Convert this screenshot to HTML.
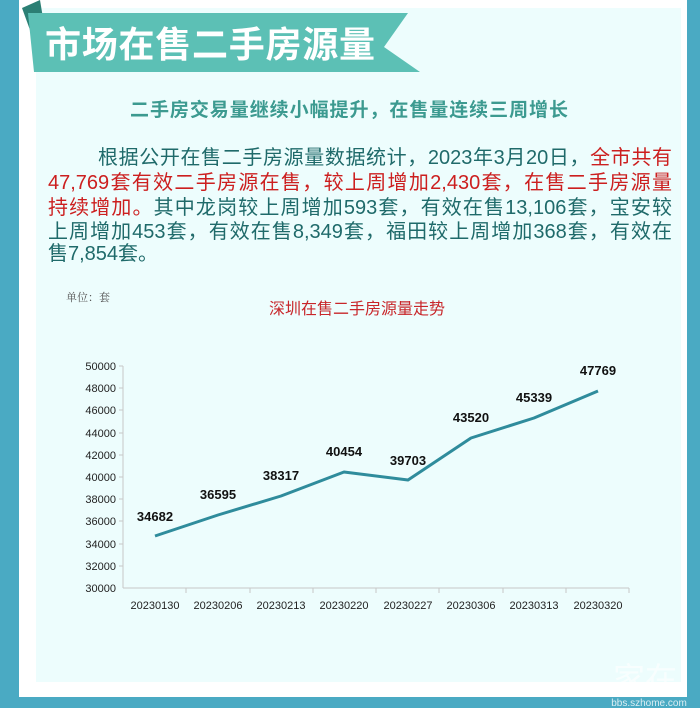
<!DOCTYPE html>
<html><head><meta charset="utf-8"><style>
body{margin:0;width:700px;height:708px;background:#4aaac3;position:relative;overflow:hidden;font-family:"Liberation Sans","Noto Sans CJK SC",sans-serif}
#white{position:absolute;left:19px;top:0;width:668px;height:697px;background:#fff}
#panel{position:absolute;left:36px;top:8px;width:645px;height:674px;background:#edfdfd}
.p{position:absolute;left:48px;width:624px;font-size:20px;color:#1f6a6a;text-align:justify;text-align-last:justify;white-space:nowrap;line-height:22px}
.r{color:#cc1f1f}
</style></head><body>
<div id="white"></div><div id="panel"></div>
<svg style="position:absolute;left:0;top:0" width="700" height="708">
<polygon points="22,8 40,0 45,30 30,30" fill="#2b7f74"/>
<polygon points="28,13 408,13 384,47 420,72 34,72" fill="#5cc0b5"/>
<text x="45" y="57" font-size="36" font-weight="bold" fill="#fff" textLength="330" font-family="Liberation Sans,Noto Sans CJK SC,sans-serif">市场在售二手房源量</text>
<text x="130" y="116" font-size="19" font-weight="bold" fill="#3c9a90" textLength="438" font-family="Liberation Sans,Noto Sans CJK SC,sans-serif">二手房交易量继续小幅提升，在售量连续三周增长</text>
<text x="66" y="301" font-size="11" fill="#555" font-family="Liberation Serif,Noto Serif CJK SC,serif">单位：套</text>
<text x="357" y="314" text-anchor="middle" font-size="16" fill="#c8262a" font-family="Liberation Sans,Noto Sans CJK SC,sans-serif">深圳在售二手房源量走势</text>
<g font-size="11" fill="#222" text-anchor="end" font-family="Liberation Sans,sans-serif">
<text x="116" y="370">50000</text><text x="116" y="392">48000</text><text x="116" y="414">46000</text><text x="116" y="437">44000</text><text x="116" y="459">42000</text><text x="116" y="481">40000</text><text x="116" y="503">38000</text><text x="116" y="525">36000</text><text x="116" y="548">34000</text><text x="116" y="570">32000</text><text x="116" y="592">30000</text>
</g>
<g stroke="#c8c8c8" stroke-width="1">
<line x1="123" y1="366" x2="123" y2="588"/><line x1="123" y1="588" x2="629" y2="588"/>
<line x1="119" y1="366" x2="123" y2="366"/><line x1="119" y1="388" x2="123" y2="388"/><line x1="119" y1="410" x2="123" y2="410"/><line x1="119" y1="433" x2="123" y2="433"/><line x1="119" y1="455" x2="123" y2="455"/><line x1="119" y1="477" x2="123" y2="477"/><line x1="119" y1="499" x2="123" y2="499"/><line x1="119" y1="521" x2="123" y2="521"/><line x1="119" y1="544" x2="123" y2="544"/><line x1="119" y1="566" x2="123" y2="566"/>
<line x1="186" y1="588" x2="186" y2="593"/><line x1="250" y1="588" x2="250" y2="593"/><line x1="313" y1="588" x2="313" y2="593"/><line x1="376" y1="588" x2="376" y2="593"/><line x1="439" y1="588" x2="439" y2="593"/><line x1="503" y1="588" x2="503" y2="593"/><line x1="566" y1="588" x2="566" y2="593"/><line x1="629" y1="588" x2="629" y2="593"/>
</g>
<g font-size="11" fill="#222" text-anchor="middle" font-family="Liberation Sans,sans-serif">
<text x="155" y="609">20230130</text><text x="218" y="609">20230206</text><text x="281" y="609">20230213</text><text x="344" y="609">20230220</text><text x="408" y="609">20230227</text><text x="471" y="609">20230306</text><text x="534" y="609">20230313</text><text x="598" y="609">20230320</text>
</g>
<polyline points="155,536 218,515 281,496 344,472 408,480 471,438 534,418 598,391" fill="none" stroke="#2f8c9c" stroke-width="3" stroke-linejoin="round"/>
<g font-size="13" font-weight="bold" fill="#111" text-anchor="middle" font-family="Liberation Sans,sans-serif">
<text x="155" y="521">34682</text><text x="218" y="499">36595</text><text x="281" y="480">38317</text><text x="344" y="456">40454</text><text x="408" y="465">39703</text><text x="471" y="422">43520</text><text x="534" y="402">45339</text><text x="598" y="375">47769</text>
</g>
<text x="645" y="690" font-size="32" fill="#fff" fill-opacity="0.6" text-anchor="middle" font-family="Noto Sans CJK SC,sans-serif">家在</text>
<text x="649" y="706" font-size="10" fill="#fff" fill-opacity="0.8" text-anchor="middle" font-family="Liberation Sans,sans-serif">bbs.szhome.com</text>
</svg>
<div class="p" style="top:147px;left:98px;width:574px">根据公开在售二手房源量数据统计，2023年3月20日，<span class="r">全市共有</span></div>
<div class="p r" style="top:172px">47,769套有效二手房源在售，较上周增加2,430套，在售二手房源量</div>
<div class="p" style="top:197px"><span class="r">持续增加。</span>其中龙岗较上周增加593套，有效在售13,106套，宝安较</div>
<div class="p" style="top:221px">上周增加453套，有效在售8,349套，福田较上周增加368套，有效在</div>
<div class="p" style="top:243px;text-align-last:left">售7,854套。</div>
</body></html>
